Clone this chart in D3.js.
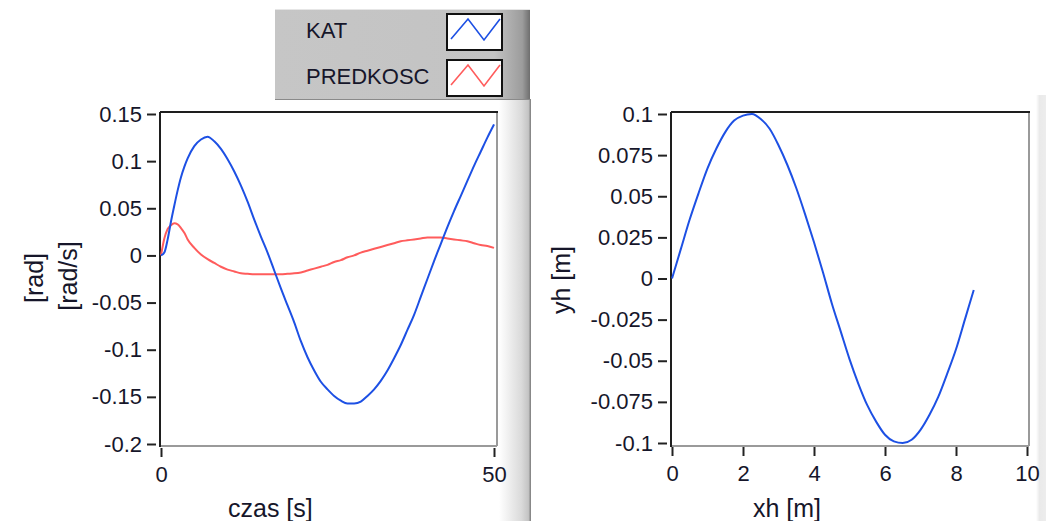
<!DOCTYPE html>
<html>
<head>
<meta charset="utf-8">
<script src="https://cdn.jsdelivr.net/npm/d3@7"></script>
<style>
  body { margin: 0; background: #fff; }
  svg { display: block; font-family: "Liberation Sans", Arial, sans-serif; }
  .tick text { fill: #16162a; font-size: 22px; }
  .tick line { stroke: #222; stroke-width: 2; }
</style>
</head>
<body>
<svg width="1046" height="521"></svg>
<script>
const svg = d3.select("svg");

// ---- data ----
const czas = [0, 0.5, 1, 1.5, 2, 2.5, 3, 3.5, 4, 5, 6, 7, 8, 9, 10, 11, 12, 13, 14, 15, 16, 17, 18, 19, 20,
  21, 22, 23, 24, 25, 26, 27, 28, 29, 30, 31, 32, 33, 34, 35, 36, 37, 38, 39, 40, 41, 42, 43, 44, 45, 46, 47, 48, 49, 50];
const kat = [0, 0.003, 0.017, 0.036, 0.053, 0.069, 0.083, 0.094, 0.103, 0.116, 0.123, 0.126, 0.121, 0.113, 0.102, 0.089,
  0.074, 0.057, 0.038, 0.020, 0.003, -0.016, -0.035, -0.053, -0.071, -0.091, -0.108, -0.122, -0.134, -0.142, -0.149,
  -0.154, -0.157, -0.157, -0.155, -0.149, -0.142, -0.133, -0.122, -0.109, -0.095, -0.079, -0.063, -0.044, -0.025,
  -0.006, 0.012, 0.030, 0.047, 0.063, 0.079, 0.095, 0.110, 0.125, 0.139];
const predkosc = [0, 0.018, 0.028, 0.032, 0.034, 0.033, 0.029, 0.024, 0.017, 0.008, 0.001, -0.004, -0.008, -0.012, -0.015,
  -0.017, -0.019, -0.0195, -0.020, -0.020, -0.020, -0.020, -0.020, -0.0195, -0.019, -0.018, -0.016, -0.014, -0.012,
  -0.010, -0.007, -0.005, -0.002, 0.000, 0.003, 0.005, 0.007, 0.009, 0.011, 0.013, 0.015, 0.016, 0.017, 0.018, 0.019,
  0.019, 0.019, 0.018, 0.017, 0.016, 0.015, 0.013, 0.011, 0.010, 0.008];

const xh = [0, 0.25, 0.5, 0.75, 1, 1.25, 1.5, 1.75, 2, 2.25, 2.5, 2.75, 3, 3.25, 3.5, 3.75, 4, 4.25, 4.5, 4.75,
  5, 5.25, 5.5, 5.75, 6, 6.25, 6.5, 6.75, 7, 7.25, 7.5, 7.75, 8, 8.25, 8.5];
const yh = [0, 0.018, 0.036, 0.052, 0.067, 0.079, 0.089, 0.096, 0.099, 0.100, 0.097, 0.091, 0.081, 0.069, 0.055, 0.039,
  0.022, 0.004, -0.015, -0.032, -0.049, -0.064, -0.077, -0.087, -0.095, -0.099, -0.100, -0.098, -0.092, -0.083,
  -0.072, -0.058, -0.043, -0.025, -0.007];

const leftYTicks = [0.15, 0.1, 0.05, 0, -0.05, -0.1, -0.15, -0.2];
const leftYLabels = ["0.15", "0.1", "0.05", "0", "-0.05", "-0.1", "-0.15", "-0.2"];
const leftXTicks = [0, 50];
const rightYTicks = [0.1, 0.075, 0.05, 0.025, 0, -0.025, -0.05, -0.075, -0.1];
const rightYLabels = ["0.1", "0.075", "0.05", "0.025", "0", "-0.025", "-0.05", "-0.075", "-0.1"];
const rightXTicks = [0, 2, 4, 6, 8, 10];

const legendNames = ["KAT", "PREDKOSC"];
const colors = { KAT: "#1d50e4", PREDKOSC: "#ff5c5c" };

// ---- background panel strips ----
const defs = svg.append("defs");
const g1 = defs.append("linearGradient").attr("id", "strip");
g1.append("stop").attr("offset", "0%").attr("stop-color", "#ffffff");
g1.append("stop").attr("offset", "70%").attr("stop-color", "#dadada");
g1.append("stop").attr("offset", "92%").attr("stop-color", "#c4c4c4");
g1.append("stop").attr("offset", "100%").attr("stop-color", "#7a7a7a");
const g2 = defs.append("linearGradient").attr("id", "legbg");
g2.append("stop").attr("offset", "0%").attr("stop-color", "#c6c6c6");
g2.append("stop").attr("offset", "86%").attr("stop-color", "#c3c3c3");
g2.append("stop").attr("offset", "97%").attr("stop-color", "#9c9c9c");
g2.append("stop").attr("offset", "100%").attr("stop-color", "#6e6e6e");
const g3 = defs.append("linearGradient").attr("id", "edge");
g3.append("stop").attr("offset", "0%").attr("stop-color", "#ffffff");
g3.append("stop").attr("offset", "35%").attr("stop-color", "#eaeaea");
g3.append("stop").attr("offset", "100%").attr("stop-color", "#ededed");

svg.append("rect").attr("x", 499).attr("y", 99).attr("width", 32).attr("height", 422).attr("fill", "url(#strip)");
svg.append("rect").attr("x", 1036).attr("y", 95).attr("width", 10).attr("height", 426).attr("fill", "url(#edge)");

// ---- legend ----
const leg = svg.append("g");
leg.append("rect").attr("x", 275).attr("y", 9).attr("width", 255).attr("height", 91).attr("fill", "url(#legbg)");
leg.append("line").attr("x1", 275).attr("x2", 530).attr("y1", 9.5).attr("y2", 9.5).attr("stroke", "#e6e6e6");
leg.append("line").attr("x1", 275).attr("x2", 530).attr("y1", 99.5).attr("y2", 99.5).attr("stroke", "#8a8a8a");
legendNames.forEach((name, i) => {
  const y0 = 13 + i * 46;
  leg.append("text").attr("x", 306).attr("y", y0 + 25).attr("font-size", 22).attr("fill", "#16162a").text(name);
  leg.append("rect").attr("x", 447).attr("y", y0 + 1).attr("width", 55).attr("height", 36)
    .attr("fill", "#fff").attr("stroke", "#111").attr("stroke-width", 2);
  leg.append("polyline")
    .attr("points", [[451, y0 + 26], [468, y0 + 6], [484, y0 + 27], [500, y0 + 6]].map(p => p.join(",")).join(" "))
    .attr("fill", "none").attr("stroke", colors[name]).attr("stroke-width", 1.6);
});

// ---- chart helpers ----
function frame(x0, y0, x1, y1) {
  const f = svg.append("g");
  f.append("rect").attr("x", x0).attr("y", y0).attr("width", x1 - x0).attr("height", y1 - y0).attr("fill", "#fff");
  f.append("line").attr("x1", x1).attr("x2", x1).attr("y1", y0).attr("y2", y1).attr("stroke", "#9a9a9a").attr("stroke-width", 2);
  f.append("line").attr("x1", x0).attr("x2", x1).attr("y1", y1).attr("y2", y1).attr("stroke", "#9a9a9a").attr("stroke-width", 2);
  f.append("line").attr("x1", x0).attr("x2", x1 + 1).attr("y1", y0).attr("y2", y0).attr("stroke", "#1e1e1e").attr("stroke-width", 2);
  f.append("line").attr("x1", x0).attr("x2", x0).attr("y1", y0).attr("y2", y1 + 1).attr("stroke", "#1e1e1e").attr("stroke-width", 2);
}

function axes(x, y, yTicks, yLabels, xTicks) {
  const [ry0] = x.range();
  const [by] = y.range();
  svg.append("g").attr("transform", `translate(${ry0 - 5},0)`)
    .call(d3.axisLeft(y).tickValues(yTicks).tickFormat((d, i) => yLabels[i]).tickSize(9).tickPadding(5).tickSizeOuter(0))
    .call(g => g.select(".domain").remove());
  svg.append("g").attr("transform", `translate(0,${by + 4})`)
    .call(d3.axisBottom(x).tickValues(xTicks).tickFormat(d3.format("d")).tickSize(9).tickPadding(9).tickSizeOuter(0))
    .call(g => g.select(".domain").remove());
}

// ---- left chart: KAT / PREDKOSC vs czas ----
const x1 = d3.scaleLinear().domain([0, 50]).range([161, 494]);
const y1 = d3.scaleLinear().domain([-0.2, 0.15]).range([444, 114]);
frame(160, 112, 497, 446);
axes(x1, y1, leftYTicks, leftYLabels, leftXTicks);

const line1 = d3.line().x(d => x1(d[0])).y(d => y1(d[1])).curve(d3.curveMonotoneX);
svg.append("path").datum(czas.map((t, i) => [t, predkosc[i]])).attr("d", line1)
  .attr("fill", "none").attr("stroke", colors.PREDKOSC).attr("stroke-width", 2);
svg.append("path").datum(czas.map((t, i) => [t, kat[i]])).attr("d", line1)
  .attr("fill", "none").attr("stroke", colors.KAT).attr("stroke-width", 2);

svg.append("text").attr("x", 228).attr("y", 517).attr("font-size", 25).attr("fill", "#16162a").text("czas [s]");
svg.append("text").attr("transform", "translate(43,278) rotate(-90)").attr("text-anchor", "middle")
  .attr("font-size", 25).attr("fill", "#16162a").text("[rad]");
svg.append("text").attr("transform", "translate(77,276) rotate(-90)").attr("text-anchor", "middle")
  .attr("font-size", 25).attr("fill", "#16162a").text("[rad/s]");

// ---- right chart: yh vs xh ----
const x2 = d3.scaleLinear().domain([0, 10]).range([672, 1027]);
const y2 = d3.scaleLinear().domain([-0.1, 0.1]).range([443, 114]);
frame(671, 112, 1029, 446);
axes(x2, y2, rightYTicks, rightYLabels, rightXTicks);

const line2 = d3.line().x(d => x2(d[0])).y(d => y2(d[1])).curve(d3.curveMonotoneX);
svg.append("path").datum(xh.map((v, i) => [v, yh[i]])).attr("d", line2)
  .attr("fill", "none").attr("stroke", colors.KAT).attr("stroke-width", 2);

svg.append("text").attr("x", 753).attr("y", 517).attr("font-size", 25).attr("fill", "#16162a").text("xh [m]");
svg.append("text").attr("transform", "translate(570,280) rotate(-90)").attr("text-anchor", "middle")
  .attr("font-size", 25).attr("fill", "#16162a").text("yh [m]");
</script>
</body>
</html>
